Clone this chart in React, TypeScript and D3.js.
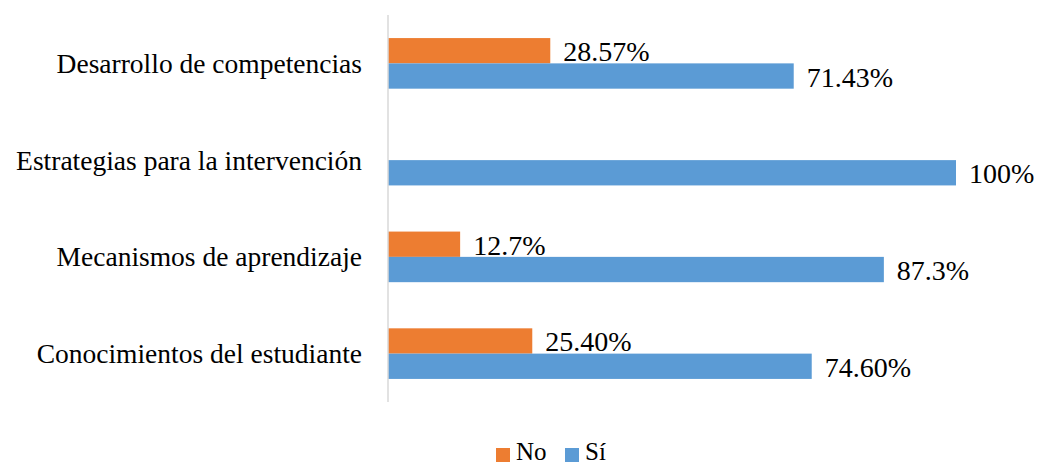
import React from "react";
import * as d3 from "d3";

const categories = [
  "Desarrollo de competencias",
  "Estrategias para la intervención",
  "Mecanismos de aprendizaje",
  "Conocimientos del estudiante",
];
const seriesNames = ["No", "Sí"];
const noValues = [28.57, 0, 12.7, 25.4];
const siValues = [71.43, 100, 87.3, 74.6];
const noLabels = ["28.57%", "", "12.7%", "25.40%"];
const siLabels = ["71.43%", "100%", "87.3%", "74.60%"];
const colors = ["#ED7D31", "#5B9BD5"];

const W = 1039;
const H = 466;
const font = "'Liberation Serif', 'Times New Roman', serif";

export default function App() {
  const x = d3.scaleLinear().domain([0, 100]).range([388, 956]);
  const pad = 0.477;
  const y0 = d3
    .scaleBand<string>()
    .domain(categories)
    .range([15, 402])
    .paddingInner(pad)
    .paddingOuter(pad / 2);
  const y1 = d3.scaleBand<string>().domain(seriesNames).range([0, y0.bandwidth()]);

  const values = [noValues, siValues];
  const labels = [noLabels, siLabels];

  return (
    <svg
      width={W}
      height={H}
      style={{ position: "absolute", left: 0, top: 0, background: "#fff" }}
      fontFamily={font}
    >
      <rect width={W} height={H} fill="#fff" />
      {categories.map((c, i) => (
        <g key={c}>
          {seriesNames.map((s, k) => {
            const v = values[k][i];
            const yy = (y0(c) as number) + (y1(s) as number);
            const h = y1.bandwidth();
            return (
              <g key={s}>
                {v > 0 && (
                  <rect x={x(0)} y={yy} width={x(v) - x(0)} height={h} fill={colors[k]} />
                )}
                {labels[k][i] && (
                  <text
                    x={x(v) + 13}
                    y={yy + h / 2 + 1}
                    dominantBaseline="central"
                    fontSize={28}
                    fill="#000"
                  >
                    {labels[k][i]}
                  </text>
                )}
              </g>
            );
          })}
          <text
            x={x(0) - 26}
            y={(y0(c) as number) + y0.bandwidth() / 2}
            dominantBaseline="central"
            textAnchor="end"
            fontSize={27.5}
            fill="#000"
          >
            {c}
          </text>
        </g>
      ))}
      <line x1={x(0)} x2={x(0)} y1={15} y2={402} stroke="#D9D9D9" strokeWidth={1.5} />
      <g>
        <rect x={496} y={448} width={14} height={14} fill={colors[0]} />
        <text x={516} y={460} fontSize={25} fill="#000">
          {seriesNames[0]}
        </text>
        <rect x={565} y={448} width={14} height={14} fill={colors[1]} />
        <text x={585} y={460} fontSize={25} fill="#000">
          {seriesNames[1]}
        </text>
      </g>
    </svg>
  );
}
